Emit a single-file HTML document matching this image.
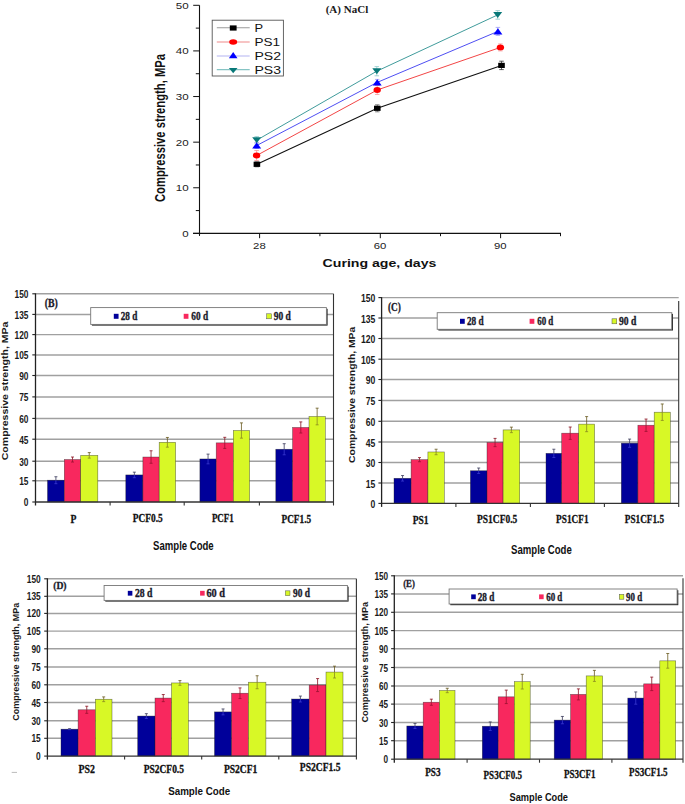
<!DOCTYPE html>
<html><head><meta charset="utf-8"><title>Compressive strength charts</title>
<style>html,body{margin:0;padding:0;background:#fff;}svg{display:block;}</style></head>
<body><svg width="685" height="804" viewBox="0 0 685 804">
<rect x="0" y="0" width="685" height="804" fill="#fff"/>
<line x1="199.50" y1="5.30" x2="199.50" y2="235.40" stroke="#111" stroke-width="1.1"/>
<line x1="193.00" y1="233.40" x2="561.00" y2="233.40" stroke="#111" stroke-width="1.1"/>
<line x1="193.20" y1="233.40" x2="199.50" y2="233.40" stroke="#111" stroke-width="1"/>
<line x1="195.80" y1="210.59" x2="199.50" y2="210.59" stroke="#111" stroke-width="1"/>
<line x1="193.20" y1="187.78" x2="199.50" y2="187.78" stroke="#111" stroke-width="1"/>
<line x1="195.80" y1="164.97" x2="199.50" y2="164.97" stroke="#111" stroke-width="1"/>
<line x1="193.20" y1="142.16" x2="199.50" y2="142.16" stroke="#111" stroke-width="1"/>
<line x1="195.80" y1="119.35" x2="199.50" y2="119.35" stroke="#111" stroke-width="1"/>
<line x1="193.20" y1="96.54" x2="199.50" y2="96.54" stroke="#111" stroke-width="1"/>
<line x1="195.80" y1="73.73" x2="199.50" y2="73.73" stroke="#111" stroke-width="1"/>
<line x1="193.20" y1="50.92" x2="199.50" y2="50.92" stroke="#111" stroke-width="1"/>
<line x1="195.80" y1="28.11" x2="199.50" y2="28.11" stroke="#111" stroke-width="1"/>
<line x1="193.20" y1="5.30" x2="199.50" y2="5.30" stroke="#111" stroke-width="1"/>
<text x="182.30" y="236.80" font-family='"Liberation Sans", sans-serif' font-size="9.2" font-weight="normal" fill="#222" text-anchor="start" textLength="6.40" lengthAdjust="spacingAndGlyphs">0</text>
<text x="175.80" y="191.18" font-family='"Liberation Sans", sans-serif' font-size="9.2" font-weight="normal" fill="#222" text-anchor="start" textLength="12.90" lengthAdjust="spacingAndGlyphs">10</text>
<text x="175.80" y="145.56" font-family='"Liberation Sans", sans-serif' font-size="9.2" font-weight="normal" fill="#222" text-anchor="start" textLength="12.90" lengthAdjust="spacingAndGlyphs">20</text>
<text x="175.80" y="99.94" font-family='"Liberation Sans", sans-serif' font-size="9.2" font-weight="normal" fill="#222" text-anchor="start" textLength="12.90" lengthAdjust="spacingAndGlyphs">30</text>
<text x="175.80" y="54.32" font-family='"Liberation Sans", sans-serif' font-size="9.2" font-weight="normal" fill="#222" text-anchor="start" textLength="12.90" lengthAdjust="spacingAndGlyphs">40</text>
<text x="175.80" y="8.70" font-family='"Liberation Sans", sans-serif' font-size="9.2" font-weight="normal" fill="#222" text-anchor="start" textLength="12.90" lengthAdjust="spacingAndGlyphs">50</text>
<line x1="259.60" y1="233.40" x2="259.60" y2="238.20" stroke="#111" stroke-width="1"/>
<line x1="380.30" y1="233.40" x2="380.30" y2="238.20" stroke="#111" stroke-width="1"/>
<line x1="500.60" y1="233.40" x2="500.60" y2="238.20" stroke="#111" stroke-width="1"/>
<line x1="319.90" y1="233.40" x2="319.90" y2="236.20" stroke="#111" stroke-width="1"/>
<line x1="440.50" y1="233.40" x2="440.50" y2="236.20" stroke="#111" stroke-width="1"/>
<line x1="560.50" y1="233.40" x2="560.50" y2="236.20" stroke="#111" stroke-width="1"/>
<line x1="199.50" y1="233.40" x2="199.50" y2="235.90" stroke="#111" stroke-width="1"/>
<text x="253.10" y="248.60" font-family='"Liberation Sans", sans-serif' font-size="9.6" font-weight="normal" fill="#222" text-anchor="start" textLength="12.60" lengthAdjust="spacingAndGlyphs">28</text>
<text x="373.70" y="248.60" font-family='"Liberation Sans", sans-serif' font-size="9.6" font-weight="normal" fill="#222" text-anchor="start" textLength="12.60" lengthAdjust="spacingAndGlyphs">60</text>
<text x="494.00" y="248.60" font-family='"Liberation Sans", sans-serif' font-size="9.6" font-weight="normal" fill="#222" text-anchor="start" textLength="12.60" lengthAdjust="spacingAndGlyphs">90</text>
<text x="322.60" y="266.60" font-family='"Liberation Sans", sans-serif' font-size="10.6" font-weight="bold" fill="#111" text-anchor="start" textLength="113.80" lengthAdjust="spacingAndGlyphs">Curing age, days</text>
<text transform="translate(165.20,128.00) rotate(-90)" x="-74.00" y="0" font-family='"Liberation Sans", sans-serif' font-size="14.4" font-weight="bold" fill="#111" textLength="148.00" lengthAdjust="spacingAndGlyphs">Compressive strength, MPa</text>
<text x="325.70" y="12.80" font-family='"Liberation Serif", serif' font-size="9.6" font-weight="bold" fill="#1a1a1a" text-anchor="start" textLength="42.60" lengthAdjust="spacingAndGlyphs">(A) NaCl</text>
<polyline points="256.70,140.20 376.80,71.20 497.70,14.90" fill="none" stroke="#2a9090" stroke-width="0.9"/>
<polyline points="256.70,145.50 377.20,82.40 497.90,31.40" fill="none" stroke="#3a3af0" stroke-width="0.9"/>
<polyline points="256.60,155.50 377.20,90.00 500.40,47.40" fill="none" stroke="#f03030" stroke-width="0.9"/>
<polyline points="256.90,164.30 377.30,108.30 501.50,65.40" fill="none" stroke="#111" stroke-width="1.1"/>
<line x1="256.70" y1="136.60" x2="256.70" y2="143.80" stroke="#8cc8c8" stroke-width="0.8"/>
<line x1="254.45" y1="136.60" x2="258.95" y2="136.60" stroke="#8cc8c8" stroke-width="0.8"/>
<line x1="254.45" y1="143.80" x2="258.95" y2="143.80" stroke="#8cc8c8" stroke-width="0.8"/>
<line x1="376.80" y1="66.60" x2="376.80" y2="75.80" stroke="#8cc8c8" stroke-width="0.8"/>
<line x1="374.55" y1="66.60" x2="379.05" y2="66.60" stroke="#8cc8c8" stroke-width="0.8"/>
<line x1="374.55" y1="75.80" x2="379.05" y2="75.80" stroke="#8cc8c8" stroke-width="0.8"/>
<line x1="497.70" y1="10.60" x2="497.70" y2="19.20" stroke="#8cc8c8" stroke-width="0.8"/>
<line x1="495.45" y1="10.60" x2="499.95" y2="10.60" stroke="#8cc8c8" stroke-width="0.8"/>
<line x1="495.45" y1="19.20" x2="499.95" y2="19.20" stroke="#8cc8c8" stroke-width="0.8"/>
<line x1="256.70" y1="142.50" x2="256.70" y2="148.50" stroke="#9a9af5" stroke-width="0.8"/>
<line x1="254.45" y1="142.50" x2="258.95" y2="142.50" stroke="#9a9af5" stroke-width="0.8"/>
<line x1="254.45" y1="148.50" x2="258.95" y2="148.50" stroke="#9a9af5" stroke-width="0.8"/>
<line x1="377.20" y1="79.40" x2="377.20" y2="85.40" stroke="#9a9af5" stroke-width="0.8"/>
<line x1="374.95" y1="79.40" x2="379.45" y2="79.40" stroke="#9a9af5" stroke-width="0.8"/>
<line x1="374.95" y1="85.40" x2="379.45" y2="85.40" stroke="#9a9af5" stroke-width="0.8"/>
<line x1="497.90" y1="27.40" x2="497.90" y2="35.40" stroke="#9a9af5" stroke-width="0.8"/>
<line x1="495.65" y1="27.40" x2="500.15" y2="27.40" stroke="#9a9af5" stroke-width="0.8"/>
<line x1="495.65" y1="35.40" x2="500.15" y2="35.40" stroke="#9a9af5" stroke-width="0.8"/>
<line x1="256.60" y1="150.50" x2="256.60" y2="160.50" stroke="#f59a9a" stroke-width="0.8"/>
<line x1="254.35" y1="150.50" x2="258.85" y2="150.50" stroke="#f59a9a" stroke-width="0.8"/>
<line x1="254.35" y1="160.50" x2="258.85" y2="160.50" stroke="#f59a9a" stroke-width="0.8"/>
<line x1="377.20" y1="85.50" x2="377.20" y2="94.50" stroke="#f59a9a" stroke-width="0.8"/>
<line x1="374.95" y1="85.50" x2="379.45" y2="85.50" stroke="#f59a9a" stroke-width="0.8"/>
<line x1="374.95" y1="94.50" x2="379.45" y2="94.50" stroke="#f59a9a" stroke-width="0.8"/>
<line x1="500.40" y1="43.90" x2="500.40" y2="50.90" stroke="#f59a9a" stroke-width="0.8"/>
<line x1="498.15" y1="43.90" x2="502.65" y2="43.90" stroke="#f59a9a" stroke-width="0.8"/>
<line x1="498.15" y1="50.90" x2="502.65" y2="50.90" stroke="#f59a9a" stroke-width="0.8"/>
<line x1="256.90" y1="161.80" x2="256.90" y2="166.80" stroke="#666" stroke-width="0.8"/>
<line x1="254.65" y1="161.80" x2="259.15" y2="161.80" stroke="#666" stroke-width="0.8"/>
<line x1="254.65" y1="166.80" x2="259.15" y2="166.80" stroke="#666" stroke-width="0.8"/>
<line x1="377.30" y1="104.80" x2="377.30" y2="111.80" stroke="#666" stroke-width="0.8"/>
<line x1="375.05" y1="104.80" x2="379.55" y2="104.80" stroke="#666" stroke-width="0.8"/>
<line x1="375.05" y1="111.80" x2="379.55" y2="111.80" stroke="#666" stroke-width="0.8"/>
<line x1="501.50" y1="61.20" x2="501.50" y2="69.60" stroke="#333" stroke-width="0.8"/>
<line x1="499.25" y1="61.20" x2="503.75" y2="61.20" stroke="#333" stroke-width="0.8"/>
<line x1="499.25" y1="69.60" x2="503.75" y2="69.60" stroke="#333" stroke-width="0.8"/>
<polygon points="252.20,137.20 261.20,137.20 256.70,143.20" fill="#087878"/>
<polygon points="372.30,68.20 381.30,68.20 376.80,74.20" fill="#087878"/>
<polygon points="493.20,11.90 502.20,11.90 497.70,17.90" fill="#087878"/>
<polygon points="252.20,148.60 261.20,148.60 256.70,142.40" fill="#00f"/>
<polygon points="372.70,85.50 381.70,85.50 377.20,79.30" fill="#00f"/>
<polygon points="493.40,34.50 502.40,34.50 497.90,28.30" fill="#00f"/>
<ellipse cx="256.60" cy="155.50" rx="3.7" ry="2.9" fill="#f00"/>
<ellipse cx="377.20" cy="90.00" rx="3.7" ry="2.9" fill="#f00"/>
<ellipse cx="500.40" cy="47.40" rx="3.7" ry="2.9" fill="#f00"/>
<rect x="253.60" y="161.70" width="6.60" height="5.20" fill="#000" stroke="none" stroke-width="0"/>
<rect x="374.00" y="105.70" width="6.60" height="5.20" fill="#000" stroke="none" stroke-width="0"/>
<rect x="498.20" y="62.80" width="6.60" height="5.20" fill="#000" stroke="none" stroke-width="0"/>
<rect x="212.20" y="20.20" width="71.20" height="55.80" fill="#fff" stroke="#555" stroke-width="0.9"/>
<line x1="216.80" y1="27.80" x2="249.70" y2="27.80" stroke="#9a9a9a" stroke-width="1.1"/>
<line x1="216.80" y1="42.00" x2="249.70" y2="42.00" stroke="#f08a8a" stroke-width="1.1"/>
<line x1="216.80" y1="56.00" x2="249.70" y2="56.00" stroke="#b4b4f2" stroke-width="1.1"/>
<line x1="216.80" y1="69.60" x2="249.70" y2="69.60" stroke="#86c4c4" stroke-width="1.1"/>
<rect x="229.80" y="25.40" width="6.80" height="5.20" fill="#000" stroke="none" stroke-width="0"/>
<ellipse cx="233.20" cy="42.00" rx="4.0" ry="2.8" fill="#f00"/>
<polygon points="228.90,58.20 237.50,58.20 233.20,52.00" fill="#00f"/>
<polygon points="228.90,67.90 237.50,67.90 233.20,73.30" fill="#087878"/>
<text x="254.40" y="31.70" font-family='"Liberation Sans", sans-serif' font-size="10.8" font-weight="normal" fill="#111" text-anchor="start" textLength="8.60" lengthAdjust="spacingAndGlyphs">P</text>
<text x="254.40" y="45.90" font-family='"Liberation Sans", sans-serif' font-size="10.8" font-weight="normal" fill="#111" text-anchor="start" textLength="25.60" lengthAdjust="spacingAndGlyphs">PS1</text>
<text x="254.40" y="59.90" font-family='"Liberation Sans", sans-serif' font-size="10.8" font-weight="normal" fill="#111" text-anchor="start" textLength="26.60" lengthAdjust="spacingAndGlyphs">PS2</text>
<text x="254.40" y="73.50" font-family='"Liberation Sans", sans-serif' font-size="10.8" font-weight="normal" fill="#111" text-anchor="start" textLength="26.60" lengthAdjust="spacingAndGlyphs">PS3</text>
<line x1="35.50" y1="480.80" x2="333.50" y2="480.80" stroke="#a0a0a0" stroke-width="1.45"/>
<line x1="35.50" y1="461.20" x2="333.50" y2="461.20" stroke="#a0a0a0" stroke-width="1.45"/>
<line x1="35.50" y1="439.20" x2="333.50" y2="439.20" stroke="#a0a0a0" stroke-width="1.45"/>
<line x1="35.50" y1="418.40" x2="333.50" y2="418.40" stroke="#a0a0a0" stroke-width="1.45"/>
<line x1="35.50" y1="396.90" x2="333.50" y2="396.90" stroke="#a0a0a0" stroke-width="1.45"/>
<line x1="35.50" y1="375.50" x2="333.50" y2="375.50" stroke="#a0a0a0" stroke-width="1.45"/>
<line x1="35.50" y1="354.90" x2="333.50" y2="354.90" stroke="#a0a0a0" stroke-width="1.45"/>
<line x1="35.50" y1="334.60" x2="333.50" y2="334.60" stroke="#a0a0a0" stroke-width="1.45"/>
<line x1="35.50" y1="314.40" x2="333.50" y2="314.40" stroke="#a0a0a0" stroke-width="1.45"/>
<line x1="35.50" y1="293.80" x2="333.50" y2="293.80" stroke="#a0a0a0" stroke-width="1.45"/>
<rect x="91.90" y="308.80" width="235.70" height="16.80" fill="#222" stroke="none" stroke-width="0"/>
<rect x="90.70" y="307.60" width="235.70" height="16.80" fill="#fff" stroke="#777" stroke-width="0.9"/>
<rect x="113.80" y="313.80" width="4.75" height="5.00" fill="#00009a" stroke="none" stroke-width="0"/>
<text x="120.70" y="320.30" font-family='"Liberation Serif", serif' font-size="12.5" font-weight="bold" fill="#1a1a2a" text-anchor="start" textLength="16.60" lengthAdjust="spacingAndGlyphs" stroke="#1a1a2a" stroke-width="0.35">28 d</text>
<rect x="183.70" y="313.80" width="4.75" height="5.00" fill="#f8285e" stroke="none" stroke-width="0"/>
<text x="191.30" y="320.30" font-family='"Liberation Serif", serif' font-size="12.5" font-weight="bold" fill="#1a1a2a" text-anchor="start" textLength="16.80" lengthAdjust="spacingAndGlyphs" stroke="#1a1a2a" stroke-width="0.35">60 d</text>
<rect x="266.70" y="313.80" width="4.75" height="5.00" fill="#d8f826" stroke="#555" stroke-width="0.5"/>
<text x="273.70" y="320.30" font-family='"Liberation Serif", serif' font-size="12.5" font-weight="bold" fill="#1a1a2a" text-anchor="start" textLength="17.10" lengthAdjust="spacingAndGlyphs" stroke="#1a1a2a" stroke-width="0.35">90 d</text>
<rect x="47.50" y="480.21" width="16.80" height="21.79" fill="#00009a" stroke="#202020" stroke-width="0.6" stroke-opacity="0.6"/>
<rect x="64.30" y="459.53" width="16.40" height="42.47" fill="#f8285e" stroke="#202020" stroke-width="0.6" stroke-opacity="0.6"/>
<rect x="80.70" y="455.36" width="17.10" height="46.64" fill="#d8f826" stroke="#202020" stroke-width="0.6" stroke-opacity="0.6"/>
<line x1="55.90" y1="476.74" x2="55.90" y2="480.21" stroke="#3a3a5a" stroke-width="0.8"/>
<line x1="55.90" y1="480.21" x2="55.90" y2="483.68" stroke="#3a3ad0" stroke-width="0.8"/>
<line x1="54.40" y1="476.74" x2="57.40" y2="476.74" stroke="#3a3a5a" stroke-width="0.8"/>
<line x1="54.40" y1="483.68" x2="57.40" y2="483.68" stroke="#3a3ad0" stroke-width="0.8"/>
<line x1="72.50" y1="457.03" x2="72.50" y2="459.53" stroke="#8a1020" stroke-width="0.8"/>
<line x1="72.50" y1="459.53" x2="72.50" y2="462.03" stroke="#9a1030" stroke-width="0.8"/>
<line x1="71.00" y1="457.03" x2="74.00" y2="457.03" stroke="#8a1020" stroke-width="0.8"/>
<line x1="71.00" y1="462.03" x2="74.00" y2="462.03" stroke="#9a1030" stroke-width="0.8"/>
<line x1="89.25" y1="452.59" x2="89.25" y2="455.36" stroke="#6a5a20" stroke-width="0.8"/>
<line x1="89.25" y1="455.36" x2="89.25" y2="458.14" stroke="#8a8a20" stroke-width="0.8"/>
<line x1="87.75" y1="452.59" x2="90.75" y2="452.59" stroke="#6a5a20" stroke-width="0.8"/>
<line x1="87.75" y1="458.14" x2="90.75" y2="458.14" stroke="#8a8a20" stroke-width="0.8"/>
<rect x="125.80" y="474.93" width="17.10" height="27.07" fill="#00009a" stroke="#202020" stroke-width="0.6" stroke-opacity="0.6"/>
<rect x="142.90" y="457.03" width="16.30" height="44.97" fill="#f8285e" stroke="#202020" stroke-width="0.6" stroke-opacity="0.6"/>
<rect x="159.20" y="442.32" width="16.40" height="59.68" fill="#d8f826" stroke="#202020" stroke-width="0.6" stroke-opacity="0.6"/>
<line x1="134.35" y1="472.16" x2="134.35" y2="474.93" stroke="#3a3a5a" stroke-width="0.8"/>
<line x1="134.35" y1="474.93" x2="134.35" y2="477.71" stroke="#3a3ad0" stroke-width="0.8"/>
<line x1="132.85" y1="472.16" x2="135.85" y2="472.16" stroke="#3a3a5a" stroke-width="0.8"/>
<line x1="132.85" y1="477.71" x2="135.85" y2="477.71" stroke="#3a3ad0" stroke-width="0.8"/>
<line x1="151.05" y1="450.78" x2="151.05" y2="457.03" stroke="#8a1020" stroke-width="0.8"/>
<line x1="151.05" y1="457.03" x2="151.05" y2="463.27" stroke="#9a1030" stroke-width="0.8"/>
<line x1="149.55" y1="450.78" x2="152.55" y2="450.78" stroke="#8a1020" stroke-width="0.8"/>
<line x1="149.55" y1="463.27" x2="152.55" y2="463.27" stroke="#9a1030" stroke-width="0.8"/>
<line x1="167.40" y1="437.46" x2="167.40" y2="442.32" stroke="#6a5a20" stroke-width="0.8"/>
<line x1="167.40" y1="442.32" x2="167.40" y2="447.17" stroke="#8a8a20" stroke-width="0.8"/>
<line x1="165.90" y1="437.46" x2="168.90" y2="437.46" stroke="#6a5a20" stroke-width="0.8"/>
<line x1="165.90" y1="447.17" x2="168.90" y2="447.17" stroke="#8a8a20" stroke-width="0.8"/>
<rect x="199.90" y="458.97" width="16.30" height="43.03" fill="#00009a" stroke="#202020" stroke-width="0.6" stroke-opacity="0.6"/>
<rect x="216.20" y="442.87" width="17.10" height="59.13" fill="#f8285e" stroke="#202020" stroke-width="0.6" stroke-opacity="0.6"/>
<rect x="233.30" y="430.52" width="16.30" height="71.48" fill="#d8f826" stroke="#202020" stroke-width="0.6" stroke-opacity="0.6"/>
<line x1="208.05" y1="454.11" x2="208.05" y2="458.97" stroke="#3a3a5a" stroke-width="0.8"/>
<line x1="208.05" y1="458.97" x2="208.05" y2="463.83" stroke="#3a3ad0" stroke-width="0.8"/>
<line x1="206.55" y1="454.11" x2="209.55" y2="454.11" stroke="#3a3a5a" stroke-width="0.8"/>
<line x1="206.55" y1="463.83" x2="209.55" y2="463.83" stroke="#3a3ad0" stroke-width="0.8"/>
<line x1="224.75" y1="437.32" x2="224.75" y2="442.87" stroke="#8a1020" stroke-width="0.8"/>
<line x1="224.75" y1="442.87" x2="224.75" y2="448.42" stroke="#9a1030" stroke-width="0.8"/>
<line x1="223.25" y1="437.32" x2="226.25" y2="437.32" stroke="#8a1020" stroke-width="0.8"/>
<line x1="223.25" y1="448.42" x2="226.25" y2="448.42" stroke="#9a1030" stroke-width="0.8"/>
<line x1="241.45" y1="422.88" x2="241.45" y2="430.52" stroke="#6a5a20" stroke-width="0.8"/>
<line x1="241.45" y1="430.52" x2="241.45" y2="438.15" stroke="#8a8a20" stroke-width="0.8"/>
<line x1="239.95" y1="422.88" x2="242.95" y2="422.88" stroke="#6a5a20" stroke-width="0.8"/>
<line x1="239.95" y1="438.15" x2="242.95" y2="438.15" stroke="#8a8a20" stroke-width="0.8"/>
<rect x="275.80" y="449.26" width="16.80" height="52.74" fill="#00009a" stroke="#202020" stroke-width="0.6" stroke-opacity="0.6"/>
<rect x="292.60" y="427.46" width="16.40" height="74.54" fill="#f8285e" stroke="#202020" stroke-width="0.6" stroke-opacity="0.6"/>
<rect x="309.00" y="416.50" width="16.30" height="85.50" fill="#d8f826" stroke="#202020" stroke-width="0.6" stroke-opacity="0.6"/>
<line x1="284.20" y1="443.70" x2="284.20" y2="449.26" stroke="#3a3a5a" stroke-width="0.8"/>
<line x1="284.20" y1="449.26" x2="284.20" y2="454.81" stroke="#3a3ad0" stroke-width="0.8"/>
<line x1="282.70" y1="443.70" x2="285.70" y2="443.70" stroke="#3a3a5a" stroke-width="0.8"/>
<line x1="282.70" y1="454.81" x2="285.70" y2="454.81" stroke="#3a3ad0" stroke-width="0.8"/>
<line x1="300.80" y1="421.91" x2="300.80" y2="427.46" stroke="#8a1020" stroke-width="0.8"/>
<line x1="300.80" y1="427.46" x2="300.80" y2="433.02" stroke="#9a1030" stroke-width="0.8"/>
<line x1="299.30" y1="421.91" x2="302.30" y2="421.91" stroke="#8a1020" stroke-width="0.8"/>
<line x1="299.30" y1="433.02" x2="302.30" y2="433.02" stroke="#9a1030" stroke-width="0.8"/>
<line x1="317.15" y1="408.17" x2="317.15" y2="416.50" stroke="#6a5a20" stroke-width="0.8"/>
<line x1="317.15" y1="416.50" x2="317.15" y2="424.83" stroke="#8a8a20" stroke-width="0.8"/>
<line x1="315.65" y1="408.17" x2="318.65" y2="408.17" stroke="#6a5a20" stroke-width="0.8"/>
<line x1="315.65" y1="424.83" x2="318.65" y2="424.83" stroke="#8a8a20" stroke-width="0.8"/>
<line x1="35.50" y1="293.30" x2="35.50" y2="505.50" stroke="#222" stroke-width="1.3"/>
<line x1="35.50" y1="502.00" x2="333.50" y2="502.00" stroke="#333" stroke-width="1.3"/>
<line x1="333.50" y1="293.80" x2="333.50" y2="505.50" stroke="#333" stroke-width="1.1"/>
<line x1="32.30" y1="502.00" x2="35.50" y2="502.00" stroke="#222" stroke-width="1.1"/>
<line x1="32.30" y1="480.80" x2="35.50" y2="480.80" stroke="#222" stroke-width="1.1"/>
<line x1="32.30" y1="461.20" x2="35.50" y2="461.20" stroke="#222" stroke-width="1.1"/>
<line x1="32.30" y1="439.20" x2="35.50" y2="439.20" stroke="#222" stroke-width="1.1"/>
<line x1="32.30" y1="418.40" x2="35.50" y2="418.40" stroke="#222" stroke-width="1.1"/>
<line x1="32.30" y1="396.90" x2="35.50" y2="396.90" stroke="#222" stroke-width="1.1"/>
<line x1="32.30" y1="375.50" x2="35.50" y2="375.50" stroke="#222" stroke-width="1.1"/>
<line x1="32.30" y1="354.90" x2="35.50" y2="354.90" stroke="#222" stroke-width="1.1"/>
<line x1="32.30" y1="334.60" x2="35.50" y2="334.60" stroke="#222" stroke-width="1.1"/>
<line x1="32.30" y1="314.40" x2="35.50" y2="314.40" stroke="#222" stroke-width="1.1"/>
<line x1="32.30" y1="293.80" x2="35.50" y2="293.80" stroke="#222" stroke-width="1.1"/>
<line x1="110.10" y1="502.00" x2="110.10" y2="505.50" stroke="#333" stroke-width="1.1"/>
<line x1="184.20" y1="502.00" x2="184.20" y2="505.50" stroke="#333" stroke-width="1.1"/>
<line x1="259.40" y1="502.00" x2="259.40" y2="505.50" stroke="#333" stroke-width="1.1"/>
<text x="23.85" y="506.30" font-family='"Liberation Sans", sans-serif' font-size="10.6" font-weight="bold" fill="#1a1a1a" text-anchor="start" textLength="4.65" lengthAdjust="spacingAndGlyphs">0</text>
<text x="19.20" y="485.10" font-family='"Liberation Sans", sans-serif' font-size="10.6" font-weight="bold" fill="#1a1a1a" text-anchor="start" textLength="9.30" lengthAdjust="spacingAndGlyphs">15</text>
<text x="19.20" y="465.50" font-family='"Liberation Sans", sans-serif' font-size="10.6" font-weight="bold" fill="#1a1a1a" text-anchor="start" textLength="9.30" lengthAdjust="spacingAndGlyphs">30</text>
<text x="19.20" y="443.50" font-family='"Liberation Sans", sans-serif' font-size="10.6" font-weight="bold" fill="#1a1a1a" text-anchor="start" textLength="9.30" lengthAdjust="spacingAndGlyphs">45</text>
<text x="19.20" y="422.70" font-family='"Liberation Sans", sans-serif' font-size="10.6" font-weight="bold" fill="#1a1a1a" text-anchor="start" textLength="9.30" lengthAdjust="spacingAndGlyphs">60</text>
<text x="19.20" y="401.20" font-family='"Liberation Sans", sans-serif' font-size="10.6" font-weight="bold" fill="#1a1a1a" text-anchor="start" textLength="9.30" lengthAdjust="spacingAndGlyphs">75</text>
<text x="19.20" y="379.80" font-family='"Liberation Sans", sans-serif' font-size="10.6" font-weight="bold" fill="#1a1a1a" text-anchor="start" textLength="9.30" lengthAdjust="spacingAndGlyphs">90</text>
<text x="14.55" y="359.20" font-family='"Liberation Sans", sans-serif' font-size="10.6" font-weight="bold" fill="#1a1a1a" text-anchor="start" textLength="13.95" lengthAdjust="spacingAndGlyphs">105</text>
<text x="14.55" y="338.90" font-family='"Liberation Sans", sans-serif' font-size="10.6" font-weight="bold" fill="#1a1a1a" text-anchor="start" textLength="13.95" lengthAdjust="spacingAndGlyphs">120</text>
<text x="14.55" y="318.70" font-family='"Liberation Sans", sans-serif' font-size="10.6" font-weight="bold" fill="#1a1a1a" text-anchor="start" textLength="13.95" lengthAdjust="spacingAndGlyphs">135</text>
<text x="14.55" y="298.10" font-family='"Liberation Sans", sans-serif' font-size="10.6" font-weight="bold" fill="#1a1a1a" text-anchor="start" textLength="13.95" lengthAdjust="spacingAndGlyphs">150</text>
<text transform="translate(8.40,390.90) rotate(-90)" x="-69.35" y="0" font-family='"Liberation Sans", sans-serif' font-size="9.4" font-weight="bold" fill="#1a1a1a" textLength="138.70" lengthAdjust="spacingAndGlyphs">Compressive strength, MPa</text>
<text x="44.70" y="307.40" font-family='"Liberation Serif", serif' font-size="11.8" font-weight="bold" fill="#1a1a2a" text-anchor="start" textLength="13.10" lengthAdjust="spacingAndGlyphs" stroke="#1a1a2a" stroke-width="0.3">(B)</text>
<text x="70.40" y="522.60" font-family='"Liberation Serif", serif' font-size="12.6" font-weight="bold" fill="#111" text-anchor="start" textLength="5.90" lengthAdjust="spacingAndGlyphs" stroke="#111" stroke-width="0.3">P</text>
<text x="132.80" y="522.00" font-family='"Liberation Serif", serif' font-size="12.6" font-weight="bold" fill="#111" text-anchor="start" textLength="30.00" lengthAdjust="spacingAndGlyphs" stroke="#111" stroke-width="0.3">PCF0.5</text>
<text x="211.90" y="522.00" font-family='"Liberation Serif", serif' font-size="12.6" font-weight="bold" fill="#111" text-anchor="start" textLength="21.90" lengthAdjust="spacingAndGlyphs" stroke="#111" stroke-width="0.3">PCF1</text>
<text x="281.50" y="522.60" font-family='"Liberation Serif", serif' font-size="12.6" font-weight="bold" fill="#111" text-anchor="start" textLength="29.60" lengthAdjust="spacingAndGlyphs" stroke="#111" stroke-width="0.3">PCF1.5</text>
<text x="153.10" y="549.50" font-family='"Liberation Sans", sans-serif' font-size="11.9" font-weight="bold" fill="#111" text-anchor="start" textLength="60.60" lengthAdjust="spacingAndGlyphs">Sample Code</text>
<line x1="381.60" y1="483.00" x2="678.70" y2="483.00" stroke="#a0a0a0" stroke-width="1.45"/>
<line x1="381.60" y1="462.50" x2="678.70" y2="462.50" stroke="#a0a0a0" stroke-width="1.45"/>
<line x1="381.60" y1="442.00" x2="678.70" y2="442.00" stroke="#a0a0a0" stroke-width="1.45"/>
<line x1="381.60" y1="421.30" x2="678.70" y2="421.30" stroke="#a0a0a0" stroke-width="1.45"/>
<line x1="381.60" y1="400.40" x2="678.70" y2="400.40" stroke="#a0a0a0" stroke-width="1.45"/>
<line x1="381.60" y1="379.50" x2="678.70" y2="379.50" stroke="#a0a0a0" stroke-width="1.45"/>
<line x1="381.60" y1="359.20" x2="678.70" y2="359.20" stroke="#a0a0a0" stroke-width="1.45"/>
<line x1="381.60" y1="338.50" x2="678.70" y2="338.50" stroke="#a0a0a0" stroke-width="1.45"/>
<line x1="381.60" y1="318.00" x2="678.70" y2="318.00" stroke="#a0a0a0" stroke-width="1.45"/>
<line x1="381.60" y1="297.60" x2="678.70" y2="297.60" stroke="#a0a0a0" stroke-width="1.45"/>
<rect x="438.40" y="313.90" width="234.60" height="16.60" fill="#222" stroke="none" stroke-width="0"/>
<rect x="437.20" y="312.70" width="234.60" height="16.60" fill="#fff" stroke="#777" stroke-width="0.9"/>
<rect x="460.00" y="318.80" width="4.75" height="5.00" fill="#00009a" stroke="none" stroke-width="0"/>
<text x="467.00" y="325.30" font-family='"Liberation Serif", serif' font-size="12.5" font-weight="bold" fill="#1a1a2a" text-anchor="start" textLength="16.70" lengthAdjust="spacingAndGlyphs" stroke="#1a1a2a" stroke-width="0.35">28 d</text>
<rect x="529.60" y="318.80" width="4.75" height="5.00" fill="#f8285e" stroke="none" stroke-width="0"/>
<text x="537.20" y="325.30" font-family='"Liberation Serif", serif' font-size="12.5" font-weight="bold" fill="#1a1a2a" text-anchor="start" textLength="16.10" lengthAdjust="spacingAndGlyphs" stroke="#1a1a2a" stroke-width="0.35">60 d</text>
<rect x="612.00" y="318.80" width="4.75" height="5.00" fill="#d8f826" stroke="#555" stroke-width="0.5"/>
<text x="619.00" y="325.30" font-family='"Liberation Serif", serif' font-size="12.5" font-weight="bold" fill="#1a1a2a" text-anchor="start" textLength="17.30" lengthAdjust="spacingAndGlyphs" stroke="#1a1a2a" stroke-width="0.35">90 d</text>
<rect x="394.00" y="478.30" width="17.10" height="25.10" fill="#00009a" stroke="#202020" stroke-width="0.6" stroke-opacity="0.6"/>
<rect x="411.10" y="459.65" width="16.80" height="43.75" fill="#f8285e" stroke="#202020" stroke-width="0.6" stroke-opacity="0.6"/>
<rect x="427.90" y="451.97" width="16.40" height="51.43" fill="#d8f826" stroke="#202020" stroke-width="0.6" stroke-opacity="0.6"/>
<line x1="402.55" y1="475.56" x2="402.55" y2="478.30" stroke="#3a3a5a" stroke-width="0.8"/>
<line x1="402.55" y1="478.30" x2="402.55" y2="481.05" stroke="#3a3ad0" stroke-width="0.8"/>
<line x1="401.05" y1="475.56" x2="404.05" y2="475.56" stroke="#3a3a5a" stroke-width="0.8"/>
<line x1="401.05" y1="481.05" x2="404.05" y2="481.05" stroke="#3a3ad0" stroke-width="0.8"/>
<line x1="419.50" y1="457.60" x2="419.50" y2="459.65" stroke="#8a1020" stroke-width="0.8"/>
<line x1="419.50" y1="459.65" x2="419.50" y2="461.71" stroke="#9a1030" stroke-width="0.8"/>
<line x1="418.00" y1="457.60" x2="421.00" y2="457.60" stroke="#8a1020" stroke-width="0.8"/>
<line x1="418.00" y1="461.71" x2="421.00" y2="461.71" stroke="#9a1030" stroke-width="0.8"/>
<line x1="436.10" y1="449.23" x2="436.10" y2="451.97" stroke="#6a5a20" stroke-width="0.8"/>
<line x1="436.10" y1="451.97" x2="436.10" y2="454.72" stroke="#8a8a20" stroke-width="0.8"/>
<line x1="434.60" y1="449.23" x2="437.60" y2="449.23" stroke="#6a5a20" stroke-width="0.8"/>
<line x1="434.60" y1="454.72" x2="437.60" y2="454.72" stroke="#8a8a20" stroke-width="0.8"/>
<rect x="470.40" y="470.76" width="16.60" height="32.64" fill="#00009a" stroke="#202020" stroke-width="0.6" stroke-opacity="0.6"/>
<rect x="487.00" y="442.51" width="16.10" height="60.89" fill="#f8285e" stroke="#202020" stroke-width="0.6" stroke-opacity="0.6"/>
<rect x="503.10" y="429.90" width="16.60" height="73.50" fill="#d8f826" stroke="#202020" stroke-width="0.6" stroke-opacity="0.6"/>
<line x1="478.70" y1="468.02" x2="478.70" y2="470.76" stroke="#3a3a5a" stroke-width="0.8"/>
<line x1="478.70" y1="470.76" x2="478.70" y2="473.50" stroke="#3a3ad0" stroke-width="0.8"/>
<line x1="477.20" y1="468.02" x2="480.20" y2="468.02" stroke="#3a3a5a" stroke-width="0.8"/>
<line x1="477.20" y1="473.50" x2="480.20" y2="473.50" stroke="#3a3ad0" stroke-width="0.8"/>
<line x1="495.05" y1="438.40" x2="495.05" y2="442.51" stroke="#8a1020" stroke-width="0.8"/>
<line x1="495.05" y1="442.51" x2="495.05" y2="446.63" stroke="#9a1030" stroke-width="0.8"/>
<line x1="493.55" y1="438.40" x2="496.55" y2="438.40" stroke="#8a1020" stroke-width="0.8"/>
<line x1="493.55" y1="446.63" x2="496.55" y2="446.63" stroke="#9a1030" stroke-width="0.8"/>
<line x1="511.40" y1="427.15" x2="511.40" y2="429.90" stroke="#6a5a20" stroke-width="0.8"/>
<line x1="511.40" y1="429.90" x2="511.40" y2="432.64" stroke="#8a8a20" stroke-width="0.8"/>
<line x1="509.90" y1="427.15" x2="512.90" y2="427.15" stroke="#6a5a20" stroke-width="0.8"/>
<line x1="509.90" y1="432.64" x2="512.90" y2="432.64" stroke="#8a8a20" stroke-width="0.8"/>
<rect x="546.00" y="453.35" width="15.70" height="50.05" fill="#00009a" stroke="#202020" stroke-width="0.6" stroke-opacity="0.6"/>
<rect x="561.70" y="433.19" width="17.00" height="70.21" fill="#f8285e" stroke="#202020" stroke-width="0.6" stroke-opacity="0.6"/>
<rect x="578.70" y="424.14" width="15.90" height="79.26" fill="#d8f826" stroke="#202020" stroke-width="0.6" stroke-opacity="0.6"/>
<line x1="553.85" y1="449.23" x2="553.85" y2="453.35" stroke="#3a3a5a" stroke-width="0.8"/>
<line x1="553.85" y1="453.35" x2="553.85" y2="457.46" stroke="#3a3ad0" stroke-width="0.8"/>
<line x1="552.35" y1="449.23" x2="555.35" y2="449.23" stroke="#3a3a5a" stroke-width="0.8"/>
<line x1="552.35" y1="457.46" x2="555.35" y2="457.46" stroke="#3a3ad0" stroke-width="0.8"/>
<line x1="570.20" y1="427.02" x2="570.20" y2="433.19" stroke="#8a1020" stroke-width="0.8"/>
<line x1="570.20" y1="433.19" x2="570.20" y2="439.36" stroke="#9a1030" stroke-width="0.8"/>
<line x1="568.70" y1="427.02" x2="571.70" y2="427.02" stroke="#8a1020" stroke-width="0.8"/>
<line x1="568.70" y1="439.36" x2="571.70" y2="439.36" stroke="#9a1030" stroke-width="0.8"/>
<line x1="586.65" y1="416.59" x2="586.65" y2="424.14" stroke="#6a5a20" stroke-width="0.8"/>
<line x1="586.65" y1="424.14" x2="586.65" y2="431.68" stroke="#8a8a20" stroke-width="0.8"/>
<line x1="585.15" y1="416.59" x2="588.15" y2="416.59" stroke="#6a5a20" stroke-width="0.8"/>
<line x1="585.15" y1="431.68" x2="588.15" y2="431.68" stroke="#8a8a20" stroke-width="0.8"/>
<rect x="621.30" y="443.20" width="16.60" height="60.20" fill="#00009a" stroke="#202020" stroke-width="0.6" stroke-opacity="0.6"/>
<rect x="637.90" y="425.23" width="16.30" height="78.17" fill="#f8285e" stroke="#202020" stroke-width="0.6" stroke-opacity="0.6"/>
<rect x="654.20" y="412.21" width="16.10" height="91.19" fill="#d8f826" stroke="#202020" stroke-width="0.6" stroke-opacity="0.6"/>
<line x1="629.60" y1="439.08" x2="629.60" y2="443.20" stroke="#3a3a5a" stroke-width="0.8"/>
<line x1="629.60" y1="443.20" x2="629.60" y2="447.31" stroke="#3a3ad0" stroke-width="0.8"/>
<line x1="628.10" y1="439.08" x2="631.10" y2="439.08" stroke="#3a3a5a" stroke-width="0.8"/>
<line x1="628.10" y1="447.31" x2="631.10" y2="447.31" stroke="#3a3ad0" stroke-width="0.8"/>
<line x1="646.05" y1="419.06" x2="646.05" y2="425.23" stroke="#8a1020" stroke-width="0.8"/>
<line x1="646.05" y1="425.23" x2="646.05" y2="431.40" stroke="#9a1030" stroke-width="0.8"/>
<line x1="644.55" y1="419.06" x2="647.55" y2="419.06" stroke="#8a1020" stroke-width="0.8"/>
<line x1="644.55" y1="431.40" x2="647.55" y2="431.40" stroke="#9a1030" stroke-width="0.8"/>
<line x1="662.25" y1="403.98" x2="662.25" y2="412.21" stroke="#6a5a20" stroke-width="0.8"/>
<line x1="662.25" y1="412.21" x2="662.25" y2="420.43" stroke="#8a8a20" stroke-width="0.8"/>
<line x1="660.75" y1="403.98" x2="663.75" y2="403.98" stroke="#6a5a20" stroke-width="0.8"/>
<line x1="660.75" y1="420.43" x2="663.75" y2="420.43" stroke="#8a8a20" stroke-width="0.8"/>
<line x1="381.60" y1="297.10" x2="381.60" y2="506.90" stroke="#222" stroke-width="1.3"/>
<line x1="381.60" y1="503.40" x2="678.70" y2="503.40" stroke="#333" stroke-width="1.3"/>
<line x1="678.70" y1="301.10" x2="678.70" y2="506.90" stroke="#333" stroke-width="1.1"/>
<line x1="378.40" y1="503.40" x2="381.60" y2="503.40" stroke="#222" stroke-width="1.1"/>
<line x1="378.40" y1="483.00" x2="381.60" y2="483.00" stroke="#222" stroke-width="1.1"/>
<line x1="378.40" y1="462.50" x2="381.60" y2="462.50" stroke="#222" stroke-width="1.1"/>
<line x1="378.40" y1="442.00" x2="381.60" y2="442.00" stroke="#222" stroke-width="1.1"/>
<line x1="378.40" y1="421.30" x2="381.60" y2="421.30" stroke="#222" stroke-width="1.1"/>
<line x1="378.40" y1="400.40" x2="381.60" y2="400.40" stroke="#222" stroke-width="1.1"/>
<line x1="378.40" y1="379.50" x2="381.60" y2="379.50" stroke="#222" stroke-width="1.1"/>
<line x1="378.40" y1="359.20" x2="381.60" y2="359.20" stroke="#222" stroke-width="1.1"/>
<line x1="378.40" y1="338.50" x2="381.60" y2="338.50" stroke="#222" stroke-width="1.1"/>
<line x1="378.40" y1="318.00" x2="381.60" y2="318.00" stroke="#222" stroke-width="1.1"/>
<line x1="378.40" y1="297.60" x2="381.60" y2="297.60" stroke="#222" stroke-width="1.1"/>
<line x1="455.90" y1="503.40" x2="455.90" y2="506.90" stroke="#333" stroke-width="1.1"/>
<line x1="530.40" y1="503.40" x2="530.40" y2="506.90" stroke="#333" stroke-width="1.1"/>
<line x1="604.40" y1="503.40" x2="604.40" y2="506.90" stroke="#333" stroke-width="1.1"/>
<text x="370.50" y="508.00" font-family='"Liberation Sans", sans-serif' font-size="10.6" font-weight="bold" fill="#1a1a1a" text-anchor="start" textLength="4.80" lengthAdjust="spacingAndGlyphs">0</text>
<text x="365.70" y="487.60" font-family='"Liberation Sans", sans-serif' font-size="10.6" font-weight="bold" fill="#1a1a1a" text-anchor="start" textLength="9.60" lengthAdjust="spacingAndGlyphs">15</text>
<text x="365.70" y="467.10" font-family='"Liberation Sans", sans-serif' font-size="10.6" font-weight="bold" fill="#1a1a1a" text-anchor="start" textLength="9.60" lengthAdjust="spacingAndGlyphs">30</text>
<text x="365.70" y="446.60" font-family='"Liberation Sans", sans-serif' font-size="10.6" font-weight="bold" fill="#1a1a1a" text-anchor="start" textLength="9.60" lengthAdjust="spacingAndGlyphs">45</text>
<text x="365.70" y="425.90" font-family='"Liberation Sans", sans-serif' font-size="10.6" font-weight="bold" fill="#1a1a1a" text-anchor="start" textLength="9.60" lengthAdjust="spacingAndGlyphs">60</text>
<text x="365.70" y="405.00" font-family='"Liberation Sans", sans-serif' font-size="10.6" font-weight="bold" fill="#1a1a1a" text-anchor="start" textLength="9.60" lengthAdjust="spacingAndGlyphs">75</text>
<text x="365.70" y="384.10" font-family='"Liberation Sans", sans-serif' font-size="10.6" font-weight="bold" fill="#1a1a1a" text-anchor="start" textLength="9.60" lengthAdjust="spacingAndGlyphs">90</text>
<text x="360.90" y="363.80" font-family='"Liberation Sans", sans-serif' font-size="10.6" font-weight="bold" fill="#1a1a1a" text-anchor="start" textLength="14.40" lengthAdjust="spacingAndGlyphs">105</text>
<text x="360.90" y="343.10" font-family='"Liberation Sans", sans-serif' font-size="10.6" font-weight="bold" fill="#1a1a1a" text-anchor="start" textLength="14.40" lengthAdjust="spacingAndGlyphs">120</text>
<text x="360.90" y="322.60" font-family='"Liberation Sans", sans-serif' font-size="10.6" font-weight="bold" fill="#1a1a1a" text-anchor="start" textLength="14.40" lengthAdjust="spacingAndGlyphs">135</text>
<text x="360.90" y="302.20" font-family='"Liberation Sans", sans-serif' font-size="10.6" font-weight="bold" fill="#1a1a1a" text-anchor="start" textLength="14.40" lengthAdjust="spacingAndGlyphs">150</text>
<text transform="translate(355.00,394.85) rotate(-90)" x="-68.05" y="0" font-family='"Liberation Sans", sans-serif' font-size="9.4" font-weight="bold" fill="#1a1a1a" textLength="136.10" lengthAdjust="spacingAndGlyphs">Compressive strength, MPa</text>
<text x="387.90" y="310.60" font-family='"Liberation Serif", serif' font-size="11.8" font-weight="bold" fill="#1a1a2a" text-anchor="start" textLength="12.90" lengthAdjust="spacingAndGlyphs" stroke="#1a1a2a" stroke-width="0.3">(C)</text>
<text x="412.80" y="524.00" font-family='"Liberation Serif", serif' font-size="12.6" font-weight="bold" fill="#111" text-anchor="start" textLength="15.80" lengthAdjust="spacingAndGlyphs" stroke="#111" stroke-width="0.3">PS1</text>
<text x="477.00" y="523.40" font-family='"Liberation Serif", serif' font-size="12.6" font-weight="bold" fill="#111" text-anchor="start" textLength="40.30" lengthAdjust="spacingAndGlyphs" stroke="#111" stroke-width="0.3">PS1CF0.5</text>
<text x="556.10" y="522.80" font-family='"Liberation Serif", serif' font-size="12.6" font-weight="bold" fill="#111" text-anchor="start" textLength="32.50" lengthAdjust="spacingAndGlyphs" stroke="#111" stroke-width="0.3">PS1CF1</text>
<text x="624.80" y="522.80" font-family='"Liberation Serif", serif' font-size="12.6" font-weight="bold" fill="#111" text-anchor="start" textLength="39.20" lengthAdjust="spacingAndGlyphs" stroke="#111" stroke-width="0.3">PS1CF1.5</text>
<text x="511.00" y="554.20" font-family='"Liberation Sans", sans-serif' font-size="11.9" font-weight="bold" fill="#111" text-anchor="start" textLength="60.80" lengthAdjust="spacingAndGlyphs">Sample Code</text>
<line x1="47.40" y1="738.30" x2="356.40" y2="738.30" stroke="#a0a0a0" stroke-width="1.45"/>
<line x1="47.40" y1="720.80" x2="356.40" y2="720.80" stroke="#a0a0a0" stroke-width="1.45"/>
<line x1="47.40" y1="702.50" x2="356.40" y2="702.50" stroke="#a0a0a0" stroke-width="1.45"/>
<line x1="47.40" y1="684.80" x2="356.40" y2="684.80" stroke="#a0a0a0" stroke-width="1.45"/>
<line x1="47.40" y1="666.90" x2="356.40" y2="666.90" stroke="#a0a0a0" stroke-width="1.45"/>
<line x1="47.40" y1="648.80" x2="356.40" y2="648.80" stroke="#a0a0a0" stroke-width="1.45"/>
<line x1="47.40" y1="631.10" x2="356.40" y2="631.10" stroke="#a0a0a0" stroke-width="1.45"/>
<line x1="47.40" y1="613.40" x2="356.40" y2="613.40" stroke="#a0a0a0" stroke-width="1.45"/>
<line x1="47.40" y1="596.30" x2="356.40" y2="596.30" stroke="#a0a0a0" stroke-width="1.45"/>
<line x1="47.40" y1="578.80" x2="356.40" y2="578.80" stroke="#a0a0a0" stroke-width="1.45"/>
<rect x="105.30" y="586.70" width="243.30" height="14.90" fill="#222" stroke="none" stroke-width="0"/>
<rect x="104.10" y="585.50" width="243.30" height="14.90" fill="#fff" stroke="#777" stroke-width="0.9"/>
<rect x="127.80" y="590.85" width="4.56" height="4.80" fill="#00009a" stroke="none" stroke-width="0"/>
<text x="135.00" y="596.95" font-family='"Liberation Serif", serif' font-size="11.5" font-weight="bold" fill="#1a1a2a" text-anchor="start" textLength="17.50" lengthAdjust="spacingAndGlyphs" stroke="#1a1a2a" stroke-width="0.35">28 d</text>
<rect x="200.10" y="590.85" width="4.56" height="4.80" fill="#f8285e" stroke="none" stroke-width="0"/>
<text x="206.40" y="596.95" font-family='"Liberation Serif", serif' font-size="11.5" font-weight="bold" fill="#1a1a2a" text-anchor="start" textLength="18.60" lengthAdjust="spacingAndGlyphs" stroke="#1a1a2a" stroke-width="0.35">60 d</text>
<rect x="285.40" y="590.85" width="4.56" height="4.80" fill="#d8f826" stroke="#555" stroke-width="0.5"/>
<text x="293.00" y="596.95" font-family='"Liberation Serif", serif' font-size="11.5" font-weight="bold" fill="#1a1a2a" text-anchor="start" textLength="17.00" lengthAdjust="spacingAndGlyphs" stroke="#1a1a2a" stroke-width="0.35">90 d</text>
<rect x="61.00" y="729.17" width="17.10" height="26.83" fill="#00009a" stroke="#202020" stroke-width="0.6" stroke-opacity="0.6"/>
<rect x="78.10" y="709.78" width="17.30" height="46.22" fill="#f8285e" stroke="#202020" stroke-width="0.6" stroke-opacity="0.6"/>
<rect x="95.40" y="699.26" width="16.60" height="56.74" fill="#d8f826" stroke="#202020" stroke-width="0.6" stroke-opacity="0.6"/>
<line x1="69.55" y1="728.70" x2="69.55" y2="729.17" stroke="#3a3a5a" stroke-width="0.8"/>
<line x1="69.55" y1="729.17" x2="69.55" y2="729.64" stroke="#3a3ad0" stroke-width="0.8"/>
<line x1="68.05" y1="728.70" x2="71.05" y2="728.70" stroke="#3a3a5a" stroke-width="0.8"/>
<line x1="68.05" y1="729.64" x2="71.05" y2="729.64" stroke="#3a3ad0" stroke-width="0.8"/>
<line x1="86.75" y1="706.24" x2="86.75" y2="709.78" stroke="#8a1020" stroke-width="0.8"/>
<line x1="86.75" y1="709.78" x2="86.75" y2="713.33" stroke="#9a1030" stroke-width="0.8"/>
<line x1="85.25" y1="706.24" x2="88.25" y2="706.24" stroke="#8a1020" stroke-width="0.8"/>
<line x1="85.25" y1="713.33" x2="88.25" y2="713.33" stroke="#9a1030" stroke-width="0.8"/>
<line x1="103.70" y1="696.90" x2="103.70" y2="699.26" stroke="#6a5a20" stroke-width="0.8"/>
<line x1="103.70" y1="699.26" x2="103.70" y2="701.63" stroke="#8a8a20" stroke-width="0.8"/>
<line x1="102.20" y1="696.90" x2="105.20" y2="696.90" stroke="#6a5a20" stroke-width="0.8"/>
<line x1="102.20" y1="701.63" x2="105.20" y2="701.63" stroke="#8a8a20" stroke-width="0.8"/>
<rect x="137.70" y="716.05" width="17.30" height="39.95" fill="#00009a" stroke="#202020" stroke-width="0.6" stroke-opacity="0.6"/>
<rect x="155.00" y="698.08" width="16.50" height="57.92" fill="#f8285e" stroke="#202020" stroke-width="0.6" stroke-opacity="0.6"/>
<rect x="171.50" y="682.95" width="16.90" height="73.05" fill="#d8f826" stroke="#202020" stroke-width="0.6" stroke-opacity="0.6"/>
<line x1="146.35" y1="713.68" x2="146.35" y2="716.05" stroke="#3a3a5a" stroke-width="0.8"/>
<line x1="146.35" y1="716.05" x2="146.35" y2="718.41" stroke="#3a3ad0" stroke-width="0.8"/>
<line x1="144.85" y1="713.68" x2="147.85" y2="713.68" stroke="#3a3a5a" stroke-width="0.8"/>
<line x1="144.85" y1="718.41" x2="147.85" y2="718.41" stroke="#3a3ad0" stroke-width="0.8"/>
<line x1="163.25" y1="694.54" x2="163.25" y2="698.08" stroke="#8a1020" stroke-width="0.8"/>
<line x1="163.25" y1="698.08" x2="163.25" y2="701.63" stroke="#9a1030" stroke-width="0.8"/>
<line x1="161.75" y1="694.54" x2="164.75" y2="694.54" stroke="#8a1020" stroke-width="0.8"/>
<line x1="161.75" y1="701.63" x2="164.75" y2="701.63" stroke="#9a1030" stroke-width="0.8"/>
<line x1="179.95" y1="680.59" x2="179.95" y2="682.95" stroke="#6a5a20" stroke-width="0.8"/>
<line x1="179.95" y1="682.95" x2="179.95" y2="685.32" stroke="#8a8a20" stroke-width="0.8"/>
<line x1="178.45" y1="680.59" x2="181.45" y2="680.59" stroke="#6a5a20" stroke-width="0.8"/>
<line x1="178.45" y1="685.32" x2="181.45" y2="685.32" stroke="#8a8a20" stroke-width="0.8"/>
<rect x="214.50" y="711.91" width="17.10" height="44.09" fill="#00009a" stroke="#202020" stroke-width="0.6" stroke-opacity="0.6"/>
<rect x="231.60" y="693.24" width="16.80" height="62.76" fill="#f8285e" stroke="#202020" stroke-width="0.6" stroke-opacity="0.6"/>
<rect x="248.40" y="682.24" width="17.50" height="73.76" fill="#d8f826" stroke="#202020" stroke-width="0.6" stroke-opacity="0.6"/>
<line x1="223.05" y1="708.96" x2="223.05" y2="711.91" stroke="#3a3a5a" stroke-width="0.8"/>
<line x1="223.05" y1="711.91" x2="223.05" y2="714.87" stroke="#3a3ad0" stroke-width="0.8"/>
<line x1="221.55" y1="708.96" x2="224.55" y2="708.96" stroke="#3a3a5a" stroke-width="0.8"/>
<line x1="221.55" y1="714.87" x2="224.55" y2="714.87" stroke="#3a3ad0" stroke-width="0.8"/>
<line x1="240.00" y1="687.92" x2="240.00" y2="693.24" stroke="#8a1020" stroke-width="0.8"/>
<line x1="240.00" y1="693.24" x2="240.00" y2="698.55" stroke="#9a1030" stroke-width="0.8"/>
<line x1="238.50" y1="687.92" x2="241.50" y2="687.92" stroke="#8a1020" stroke-width="0.8"/>
<line x1="238.50" y1="698.55" x2="241.50" y2="698.55" stroke="#9a1030" stroke-width="0.8"/>
<line x1="257.15" y1="675.74" x2="257.15" y2="682.24" stroke="#6a5a20" stroke-width="0.8"/>
<line x1="257.15" y1="682.24" x2="257.15" y2="688.74" stroke="#8a8a20" stroke-width="0.8"/>
<line x1="255.65" y1="675.74" x2="258.65" y2="675.74" stroke="#6a5a20" stroke-width="0.8"/>
<line x1="255.65" y1="688.74" x2="258.65" y2="688.74" stroke="#8a8a20" stroke-width="0.8"/>
<rect x="291.60" y="699.03" width="17.60" height="56.97" fill="#00009a" stroke="#202020" stroke-width="0.6" stroke-opacity="0.6"/>
<rect x="309.20" y="685.08" width="16.80" height="70.92" fill="#f8285e" stroke="#202020" stroke-width="0.6" stroke-opacity="0.6"/>
<rect x="326.00" y="672.08" width="17.00" height="83.92" fill="#d8f826" stroke="#202020" stroke-width="0.6" stroke-opacity="0.6"/>
<line x1="300.40" y1="696.07" x2="300.40" y2="699.03" stroke="#3a3a5a" stroke-width="0.8"/>
<line x1="300.40" y1="699.03" x2="300.40" y2="701.98" stroke="#3a3ad0" stroke-width="0.8"/>
<line x1="298.90" y1="696.07" x2="301.90" y2="696.07" stroke="#3a3a5a" stroke-width="0.8"/>
<line x1="298.90" y1="701.98" x2="301.90" y2="701.98" stroke="#3a3ad0" stroke-width="0.8"/>
<line x1="317.60" y1="678.58" x2="317.60" y2="685.08" stroke="#8a1020" stroke-width="0.8"/>
<line x1="317.60" y1="685.08" x2="317.60" y2="691.58" stroke="#9a1030" stroke-width="0.8"/>
<line x1="316.10" y1="678.58" x2="319.10" y2="678.58" stroke="#8a1020" stroke-width="0.8"/>
<line x1="316.10" y1="691.58" x2="319.10" y2="691.58" stroke="#9a1030" stroke-width="0.8"/>
<line x1="334.50" y1="666.17" x2="334.50" y2="672.08" stroke="#6a5a20" stroke-width="0.8"/>
<line x1="334.50" y1="672.08" x2="334.50" y2="677.99" stroke="#8a8a20" stroke-width="0.8"/>
<line x1="333.00" y1="666.17" x2="336.00" y2="666.17" stroke="#6a5a20" stroke-width="0.8"/>
<line x1="333.00" y1="677.99" x2="336.00" y2="677.99" stroke="#8a8a20" stroke-width="0.8"/>
<line x1="47.40" y1="578.30" x2="47.40" y2="759.60" stroke="#222" stroke-width="1.3"/>
<line x1="47.40" y1="756.10" x2="356.40" y2="756.10" stroke="#333" stroke-width="1.3"/>
<line x1="356.40" y1="578.80" x2="356.40" y2="759.60" stroke="#333" stroke-width="1.1"/>
<line x1="44.20" y1="756.10" x2="47.40" y2="756.10" stroke="#222" stroke-width="1.1"/>
<line x1="44.20" y1="738.30" x2="47.40" y2="738.30" stroke="#222" stroke-width="1.1"/>
<line x1="44.20" y1="720.80" x2="47.40" y2="720.80" stroke="#222" stroke-width="1.1"/>
<line x1="44.20" y1="702.50" x2="47.40" y2="702.50" stroke="#222" stroke-width="1.1"/>
<line x1="44.20" y1="684.80" x2="47.40" y2="684.80" stroke="#222" stroke-width="1.1"/>
<line x1="44.20" y1="666.90" x2="47.40" y2="666.90" stroke="#222" stroke-width="1.1"/>
<line x1="44.20" y1="648.80" x2="47.40" y2="648.80" stroke="#222" stroke-width="1.1"/>
<line x1="44.20" y1="631.10" x2="47.40" y2="631.10" stroke="#222" stroke-width="1.1"/>
<line x1="44.20" y1="613.40" x2="47.40" y2="613.40" stroke="#222" stroke-width="1.1"/>
<line x1="44.20" y1="596.30" x2="47.40" y2="596.30" stroke="#222" stroke-width="1.1"/>
<line x1="44.20" y1="578.80" x2="47.40" y2="578.80" stroke="#222" stroke-width="1.1"/>
<line x1="124.60" y1="756.10" x2="124.60" y2="759.60" stroke="#333" stroke-width="1.1"/>
<line x1="201.70" y1="756.10" x2="201.70" y2="759.60" stroke="#333" stroke-width="1.1"/>
<line x1="278.80" y1="756.10" x2="278.80" y2="759.60" stroke="#333" stroke-width="1.1"/>
<text x="36.05" y="760.10" font-family='"Liberation Sans", sans-serif' font-size="10.3" font-weight="bold" fill="#1a1a1a" text-anchor="start" textLength="4.65" lengthAdjust="spacingAndGlyphs">0</text>
<text x="31.40" y="742.30" font-family='"Liberation Sans", sans-serif' font-size="10.3" font-weight="bold" fill="#1a1a1a" text-anchor="start" textLength="9.30" lengthAdjust="spacingAndGlyphs">15</text>
<text x="31.40" y="724.80" font-family='"Liberation Sans", sans-serif' font-size="10.3" font-weight="bold" fill="#1a1a1a" text-anchor="start" textLength="9.30" lengthAdjust="spacingAndGlyphs">30</text>
<text x="31.40" y="706.50" font-family='"Liberation Sans", sans-serif' font-size="10.3" font-weight="bold" fill="#1a1a1a" text-anchor="start" textLength="9.30" lengthAdjust="spacingAndGlyphs">45</text>
<text x="31.40" y="688.80" font-family='"Liberation Sans", sans-serif' font-size="10.3" font-weight="bold" fill="#1a1a1a" text-anchor="start" textLength="9.30" lengthAdjust="spacingAndGlyphs">60</text>
<text x="31.40" y="670.90" font-family='"Liberation Sans", sans-serif' font-size="10.3" font-weight="bold" fill="#1a1a1a" text-anchor="start" textLength="9.30" lengthAdjust="spacingAndGlyphs">75</text>
<text x="31.40" y="652.80" font-family='"Liberation Sans", sans-serif' font-size="10.3" font-weight="bold" fill="#1a1a1a" text-anchor="start" textLength="9.30" lengthAdjust="spacingAndGlyphs">90</text>
<text x="26.75" y="635.10" font-family='"Liberation Sans", sans-serif' font-size="10.3" font-weight="bold" fill="#1a1a1a" text-anchor="start" textLength="13.95" lengthAdjust="spacingAndGlyphs">105</text>
<text x="26.75" y="617.40" font-family='"Liberation Sans", sans-serif' font-size="10.3" font-weight="bold" fill="#1a1a1a" text-anchor="start" textLength="13.95" lengthAdjust="spacingAndGlyphs">120</text>
<text x="26.75" y="600.30" font-family='"Liberation Sans", sans-serif' font-size="10.3" font-weight="bold" fill="#1a1a1a" text-anchor="start" textLength="13.95" lengthAdjust="spacingAndGlyphs">135</text>
<text x="26.75" y="582.80" font-family='"Liberation Sans", sans-serif' font-size="10.3" font-weight="bold" fill="#1a1a1a" text-anchor="start" textLength="13.95" lengthAdjust="spacingAndGlyphs">150</text>
<text transform="translate(18.70,661.75) rotate(-90)" x="-58.95" y="0" font-family='"Liberation Sans", sans-serif' font-size="9.2" font-weight="bold" fill="#1a1a1a" textLength="117.90" lengthAdjust="spacingAndGlyphs">Compressive strength, MPa</text>
<text x="53.20" y="589.00" font-family='"Liberation Serif", serif' font-size="10.6" font-weight="bold" fill="#1a1a2a" text-anchor="start" textLength="13.40" lengthAdjust="spacingAndGlyphs" stroke="#1a1a2a" stroke-width="0.3">(D)</text>
<text x="78.50" y="773.10" font-family='"Liberation Serif", serif' font-size="11.6" font-weight="bold" fill="#111" text-anchor="start" textLength="16.40" lengthAdjust="spacingAndGlyphs" stroke="#111" stroke-width="0.3">PS2</text>
<text x="143.70" y="773.00" font-family='"Liberation Serif", serif' font-size="11.6" font-weight="bold" fill="#111" text-anchor="start" textLength="40.30" lengthAdjust="spacingAndGlyphs" stroke="#111" stroke-width="0.3">PS2CF0.5</text>
<text x="223.90" y="773.10" font-family='"Liberation Serif", serif' font-size="11.6" font-weight="bold" fill="#111" text-anchor="start" textLength="33.50" lengthAdjust="spacingAndGlyphs" stroke="#111" stroke-width="0.3">PS2CF1</text>
<text x="299.80" y="771.30" font-family='"Liberation Serif", serif' font-size="11.6" font-weight="bold" fill="#111" text-anchor="start" textLength="40.70" lengthAdjust="spacingAndGlyphs" stroke="#111" stroke-width="0.3">PS2CF1.5</text>
<text x="168.20" y="795.30" font-family='"Liberation Sans", sans-serif' font-size="11.5" font-weight="bold" fill="#111" text-anchor="start" textLength="62.00" lengthAdjust="spacingAndGlyphs">Sample Code</text>
<line x1="394.30" y1="740.70" x2="683.00" y2="740.70" stroke="#a0a0a0" stroke-width="1.45"/>
<line x1="394.30" y1="722.50" x2="683.00" y2="722.50" stroke="#a0a0a0" stroke-width="1.45"/>
<line x1="394.30" y1="704.10" x2="683.00" y2="704.10" stroke="#a0a0a0" stroke-width="1.45"/>
<line x1="394.30" y1="686.00" x2="683.00" y2="686.00" stroke="#a0a0a0" stroke-width="1.45"/>
<line x1="394.30" y1="667.50" x2="683.00" y2="667.50" stroke="#a0a0a0" stroke-width="1.45"/>
<line x1="394.30" y1="648.70" x2="683.00" y2="648.70" stroke="#a0a0a0" stroke-width="1.45"/>
<line x1="394.30" y1="630.60" x2="683.00" y2="630.60" stroke="#a0a0a0" stroke-width="1.45"/>
<line x1="394.30" y1="612.30" x2="683.00" y2="612.30" stroke="#a0a0a0" stroke-width="1.45"/>
<line x1="394.30" y1="593.90" x2="683.00" y2="593.90" stroke="#a0a0a0" stroke-width="1.45"/>
<line x1="394.30" y1="575.80" x2="683.00" y2="575.80" stroke="#a0a0a0" stroke-width="1.45"/>
<rect x="450.30" y="590.20" width="228.00" height="15.00" fill="#222" stroke="none" stroke-width="0"/>
<rect x="449.10" y="589.00" width="228.00" height="15.00" fill="#fff" stroke="#777" stroke-width="0.9"/>
<rect x="471.20" y="594.40" width="4.56" height="4.80" fill="#00009a" stroke="none" stroke-width="0"/>
<text x="477.70" y="600.50" font-family='"Liberation Serif", serif' font-size="11.5" font-weight="bold" fill="#1a1a2a" text-anchor="start" textLength="16.60" lengthAdjust="spacingAndGlyphs" stroke="#1a1a2a" stroke-width="0.35">28 d</text>
<rect x="539.10" y="594.40" width="4.56" height="4.80" fill="#f8285e" stroke="none" stroke-width="0"/>
<text x="546.20" y="600.50" font-family='"Liberation Serif", serif' font-size="11.5" font-weight="bold" fill="#1a1a2a" text-anchor="start" textLength="16.10" lengthAdjust="spacingAndGlyphs" stroke="#1a1a2a" stroke-width="0.35">60 d</text>
<rect x="619.30" y="594.40" width="4.56" height="4.80" fill="#d8f826" stroke="#555" stroke-width="0.5"/>
<text x="626.00" y="600.50" font-family='"Liberation Serif", serif' font-size="11.5" font-weight="bold" fill="#1a1a2a" text-anchor="start" textLength="16.10" lengthAdjust="spacingAndGlyphs" stroke="#1a1a2a" stroke-width="0.35">90 d</text>
<rect x="406.80" y="725.99" width="16.40" height="33.31" fill="#00009a" stroke="#202020" stroke-width="0.6" stroke-opacity="0.6"/>
<rect x="423.20" y="702.23" width="16.30" height="57.07" fill="#f8285e" stroke="#202020" stroke-width="0.6" stroke-opacity="0.6"/>
<rect x="439.50" y="690.47" width="15.50" height="68.83" fill="#d8f826" stroke="#202020" stroke-width="0.6" stroke-opacity="0.6"/>
<line x1="415.00" y1="723.54" x2="415.00" y2="725.99" stroke="#3a3a5a" stroke-width="0.8"/>
<line x1="415.00" y1="725.99" x2="415.00" y2="728.44" stroke="#3a3ad0" stroke-width="0.8"/>
<line x1="413.50" y1="723.54" x2="416.50" y2="723.54" stroke="#3a3a5a" stroke-width="0.8"/>
<line x1="413.50" y1="728.44" x2="416.50" y2="728.44" stroke="#3a3ad0" stroke-width="0.8"/>
<line x1="431.35" y1="699.17" x2="431.35" y2="702.23" stroke="#8a1020" stroke-width="0.8"/>
<line x1="431.35" y1="702.23" x2="431.35" y2="705.29" stroke="#9a1030" stroke-width="0.8"/>
<line x1="429.85" y1="699.17" x2="432.85" y2="699.17" stroke="#8a1020" stroke-width="0.8"/>
<line x1="429.85" y1="705.29" x2="432.85" y2="705.29" stroke="#9a1030" stroke-width="0.8"/>
<line x1="447.25" y1="688.27" x2="447.25" y2="690.47" stroke="#6a5a20" stroke-width="0.8"/>
<line x1="447.25" y1="690.47" x2="447.25" y2="692.68" stroke="#8a8a20" stroke-width="0.8"/>
<line x1="445.75" y1="688.27" x2="448.75" y2="688.27" stroke="#6a5a20" stroke-width="0.8"/>
<line x1="445.75" y1="692.68" x2="448.75" y2="692.68" stroke="#8a8a20" stroke-width="0.8"/>
<rect x="482.30" y="726.23" width="15.90" height="33.07" fill="#00009a" stroke="#202020" stroke-width="0.6" stroke-opacity="0.6"/>
<rect x="498.20" y="696.84" width="16.10" height="62.46" fill="#f8285e" stroke="#202020" stroke-width="0.6" stroke-opacity="0.6"/>
<rect x="514.30" y="681.66" width="15.90" height="77.64" fill="#d8f826" stroke="#202020" stroke-width="0.6" stroke-opacity="0.6"/>
<line x1="490.25" y1="721.95" x2="490.25" y2="726.23" stroke="#3a3a5a" stroke-width="0.8"/>
<line x1="490.25" y1="726.23" x2="490.25" y2="730.52" stroke="#3a3ad0" stroke-width="0.8"/>
<line x1="488.75" y1="721.95" x2="491.75" y2="721.95" stroke="#3a3a5a" stroke-width="0.8"/>
<line x1="488.75" y1="730.52" x2="491.75" y2="730.52" stroke="#3a3ad0" stroke-width="0.8"/>
<line x1="506.25" y1="690.11" x2="506.25" y2="696.84" stroke="#8a1020" stroke-width="0.8"/>
<line x1="506.25" y1="696.84" x2="506.25" y2="703.58" stroke="#9a1030" stroke-width="0.8"/>
<line x1="504.75" y1="690.11" x2="507.75" y2="690.11" stroke="#8a1020" stroke-width="0.8"/>
<line x1="504.75" y1="703.58" x2="507.75" y2="703.58" stroke="#9a1030" stroke-width="0.8"/>
<line x1="522.25" y1="674.31" x2="522.25" y2="681.66" stroke="#6a5a20" stroke-width="0.8"/>
<line x1="522.25" y1="681.66" x2="522.25" y2="689.00" stroke="#8a8a20" stroke-width="0.8"/>
<line x1="520.75" y1="674.31" x2="523.75" y2="674.31" stroke="#6a5a20" stroke-width="0.8"/>
<line x1="520.75" y1="689.00" x2="523.75" y2="689.00" stroke="#8a8a20" stroke-width="0.8"/>
<rect x="554.20" y="720.11" width="16.40" height="39.19" fill="#00009a" stroke="#202020" stroke-width="0.6" stroke-opacity="0.6"/>
<rect x="570.60" y="694.39" width="15.60" height="64.91" fill="#f8285e" stroke="#202020" stroke-width="0.6" stroke-opacity="0.6"/>
<rect x="586.20" y="675.90" width="16.40" height="83.40" fill="#d8f826" stroke="#202020" stroke-width="0.6" stroke-opacity="0.6"/>
<line x1="562.40" y1="716.44" x2="562.40" y2="720.11" stroke="#3a3a5a" stroke-width="0.8"/>
<line x1="562.40" y1="720.11" x2="562.40" y2="723.78" stroke="#3a3ad0" stroke-width="0.8"/>
<line x1="560.90" y1="716.44" x2="563.90" y2="716.44" stroke="#3a3a5a" stroke-width="0.8"/>
<line x1="560.90" y1="723.78" x2="563.90" y2="723.78" stroke="#3a3ad0" stroke-width="0.8"/>
<line x1="578.40" y1="688.88" x2="578.40" y2="694.39" stroke="#8a1020" stroke-width="0.8"/>
<line x1="578.40" y1="694.39" x2="578.40" y2="699.90" stroke="#9a1030" stroke-width="0.8"/>
<line x1="576.90" y1="688.88" x2="579.90" y2="688.88" stroke="#8a1020" stroke-width="0.8"/>
<line x1="576.90" y1="699.90" x2="579.90" y2="699.90" stroke="#9a1030" stroke-width="0.8"/>
<line x1="594.40" y1="670.39" x2="594.40" y2="675.90" stroke="#6a5a20" stroke-width="0.8"/>
<line x1="594.40" y1="675.90" x2="594.40" y2="681.41" stroke="#8a8a20" stroke-width="0.8"/>
<line x1="592.90" y1="670.39" x2="595.90" y2="670.39" stroke="#6a5a20" stroke-width="0.8"/>
<line x1="592.90" y1="681.41" x2="595.90" y2="681.41" stroke="#8a8a20" stroke-width="0.8"/>
<rect x="627.80" y="698.07" width="15.90" height="61.23" fill="#00009a" stroke="#202020" stroke-width="0.6" stroke-opacity="0.6"/>
<rect x="643.70" y="683.86" width="16.10" height="75.44" fill="#f8285e" stroke="#202020" stroke-width="0.6" stroke-opacity="0.6"/>
<rect x="659.80" y="660.84" width="15.90" height="98.46" fill="#d8f826" stroke="#202020" stroke-width="0.6" stroke-opacity="0.6"/>
<line x1="635.75" y1="691.94" x2="635.75" y2="698.07" stroke="#3a3a5a" stroke-width="0.8"/>
<line x1="635.75" y1="698.07" x2="635.75" y2="704.19" stroke="#3a3ad0" stroke-width="0.8"/>
<line x1="634.25" y1="691.94" x2="637.25" y2="691.94" stroke="#3a3a5a" stroke-width="0.8"/>
<line x1="634.25" y1="704.19" x2="637.25" y2="704.19" stroke="#3a3ad0" stroke-width="0.8"/>
<line x1="651.75" y1="677.12" x2="651.75" y2="683.86" stroke="#8a1020" stroke-width="0.8"/>
<line x1="651.75" y1="683.86" x2="651.75" y2="690.60" stroke="#9a1030" stroke-width="0.8"/>
<line x1="650.25" y1="677.12" x2="653.25" y2="677.12" stroke="#8a1020" stroke-width="0.8"/>
<line x1="650.25" y1="690.60" x2="653.25" y2="690.60" stroke="#9a1030" stroke-width="0.8"/>
<line x1="667.75" y1="653.49" x2="667.75" y2="660.84" stroke="#6a5a20" stroke-width="0.8"/>
<line x1="667.75" y1="660.84" x2="667.75" y2="668.18" stroke="#8a8a20" stroke-width="0.8"/>
<line x1="666.25" y1="653.49" x2="669.25" y2="653.49" stroke="#6a5a20" stroke-width="0.8"/>
<line x1="666.25" y1="668.18" x2="669.25" y2="668.18" stroke="#8a8a20" stroke-width="0.8"/>
<line x1="394.30" y1="575.30" x2="394.30" y2="762.70" stroke="#222" stroke-width="1.3"/>
<line x1="394.30" y1="759.20" x2="683.00" y2="759.20" stroke="#333" stroke-width="1.3"/>
<line x1="683.00" y1="578.30" x2="683.00" y2="762.70" stroke="#333" stroke-width="1.1"/>
<line x1="391.10" y1="759.20" x2="394.30" y2="759.20" stroke="#222" stroke-width="1.1"/>
<line x1="391.10" y1="740.70" x2="394.30" y2="740.70" stroke="#222" stroke-width="1.1"/>
<line x1="391.10" y1="722.50" x2="394.30" y2="722.50" stroke="#222" stroke-width="1.1"/>
<line x1="391.10" y1="704.10" x2="394.30" y2="704.10" stroke="#222" stroke-width="1.1"/>
<line x1="391.10" y1="686.00" x2="394.30" y2="686.00" stroke="#222" stroke-width="1.1"/>
<line x1="391.10" y1="667.50" x2="394.30" y2="667.50" stroke="#222" stroke-width="1.1"/>
<line x1="391.10" y1="648.70" x2="394.30" y2="648.70" stroke="#222" stroke-width="1.1"/>
<line x1="391.10" y1="630.60" x2="394.30" y2="630.60" stroke="#222" stroke-width="1.1"/>
<line x1="391.10" y1="612.30" x2="394.30" y2="612.30" stroke="#222" stroke-width="1.1"/>
<line x1="391.10" y1="593.90" x2="394.30" y2="593.90" stroke="#222" stroke-width="1.1"/>
<line x1="391.10" y1="575.80" x2="394.30" y2="575.80" stroke="#222" stroke-width="1.1"/>
<line x1="467.10" y1="759.20" x2="467.10" y2="762.70" stroke="#333" stroke-width="1.1"/>
<line x1="539.50" y1="759.20" x2="539.50" y2="762.70" stroke="#333" stroke-width="1.1"/>
<line x1="611.90" y1="759.20" x2="611.90" y2="762.70" stroke="#333" stroke-width="1.1"/>
<text x="383.55" y="763.20" font-family='"Liberation Sans", sans-serif' font-size="10.2" font-weight="bold" fill="#1a1a1a" text-anchor="start" textLength="4.55" lengthAdjust="spacingAndGlyphs">0</text>
<text x="379.00" y="744.70" font-family='"Liberation Sans", sans-serif' font-size="10.2" font-weight="bold" fill="#1a1a1a" text-anchor="start" textLength="9.10" lengthAdjust="spacingAndGlyphs">15</text>
<text x="379.00" y="726.50" font-family='"Liberation Sans", sans-serif' font-size="10.2" font-weight="bold" fill="#1a1a1a" text-anchor="start" textLength="9.10" lengthAdjust="spacingAndGlyphs">30</text>
<text x="379.00" y="708.10" font-family='"Liberation Sans", sans-serif' font-size="10.2" font-weight="bold" fill="#1a1a1a" text-anchor="start" textLength="9.10" lengthAdjust="spacingAndGlyphs">45</text>
<text x="379.00" y="690.00" font-family='"Liberation Sans", sans-serif' font-size="10.2" font-weight="bold" fill="#1a1a1a" text-anchor="start" textLength="9.10" lengthAdjust="spacingAndGlyphs">60</text>
<text x="379.00" y="671.50" font-family='"Liberation Sans", sans-serif' font-size="10.2" font-weight="bold" fill="#1a1a1a" text-anchor="start" textLength="9.10" lengthAdjust="spacingAndGlyphs">75</text>
<text x="379.00" y="652.70" font-family='"Liberation Sans", sans-serif' font-size="10.2" font-weight="bold" fill="#1a1a1a" text-anchor="start" textLength="9.10" lengthAdjust="spacingAndGlyphs">90</text>
<text x="374.45" y="634.60" font-family='"Liberation Sans", sans-serif' font-size="10.2" font-weight="bold" fill="#1a1a1a" text-anchor="start" textLength="13.65" lengthAdjust="spacingAndGlyphs">105</text>
<text x="374.45" y="616.30" font-family='"Liberation Sans", sans-serif' font-size="10.2" font-weight="bold" fill="#1a1a1a" text-anchor="start" textLength="13.65" lengthAdjust="spacingAndGlyphs">120</text>
<text x="374.45" y="597.90" font-family='"Liberation Sans", sans-serif' font-size="10.2" font-weight="bold" fill="#1a1a1a" text-anchor="start" textLength="13.65" lengthAdjust="spacingAndGlyphs">135</text>
<text x="374.45" y="579.80" font-family='"Liberation Sans", sans-serif' font-size="10.2" font-weight="bold" fill="#1a1a1a" text-anchor="start" textLength="13.65" lengthAdjust="spacingAndGlyphs">150</text>
<text transform="translate(368.30,662.20) rotate(-90)" x="-60.30" y="0" font-family='"Liberation Sans", sans-serif' font-size="9.2" font-weight="bold" fill="#1a1a1a" textLength="120.60" lengthAdjust="spacingAndGlyphs">Compressive strength, MPa</text>
<text x="403.20" y="587.20" font-family='"Liberation Serif", serif' font-size="10.6" font-weight="bold" fill="#1a1a2a" text-anchor="start" textLength="11.70" lengthAdjust="spacingAndGlyphs" stroke="#1a1a2a" stroke-width="0.3">(E)</text>
<text x="425.20" y="776.40" font-family='"Liberation Serif", serif' font-size="11.6" font-weight="bold" fill="#111" text-anchor="start" textLength="15.30" lengthAdjust="spacingAndGlyphs" stroke="#111" stroke-width="0.3">PS3</text>
<text x="483.60" y="778.60" font-family='"Liberation Serif", serif' font-size="11.6" font-weight="bold" fill="#111" text-anchor="start" textLength="38.40" lengthAdjust="spacingAndGlyphs" stroke="#111" stroke-width="0.3">PS3CF0.5</text>
<text x="564.00" y="777.70" font-family='"Liberation Serif", serif' font-size="11.6" font-weight="bold" fill="#111" text-anchor="start" textLength="31.60" lengthAdjust="spacingAndGlyphs" stroke="#111" stroke-width="0.3">PS3CF1</text>
<text x="629.10" y="776.30" font-family='"Liberation Serif", serif' font-size="11.6" font-weight="bold" fill="#111" text-anchor="start" textLength="38.50" lengthAdjust="spacingAndGlyphs" stroke="#111" stroke-width="0.3">PS3CF1.5</text>
<text x="509.50" y="801.00" font-family='"Liberation Sans", sans-serif' font-size="11.5" font-weight="bold" fill="#111" text-anchor="start" textLength="58.50" lengthAdjust="spacingAndGlyphs">Sample Code</text>
<line x1="11.70" y1="772.40" x2="17.00" y2="772.40" stroke="#bbb" stroke-width="1"/>
</svg></body></html>
